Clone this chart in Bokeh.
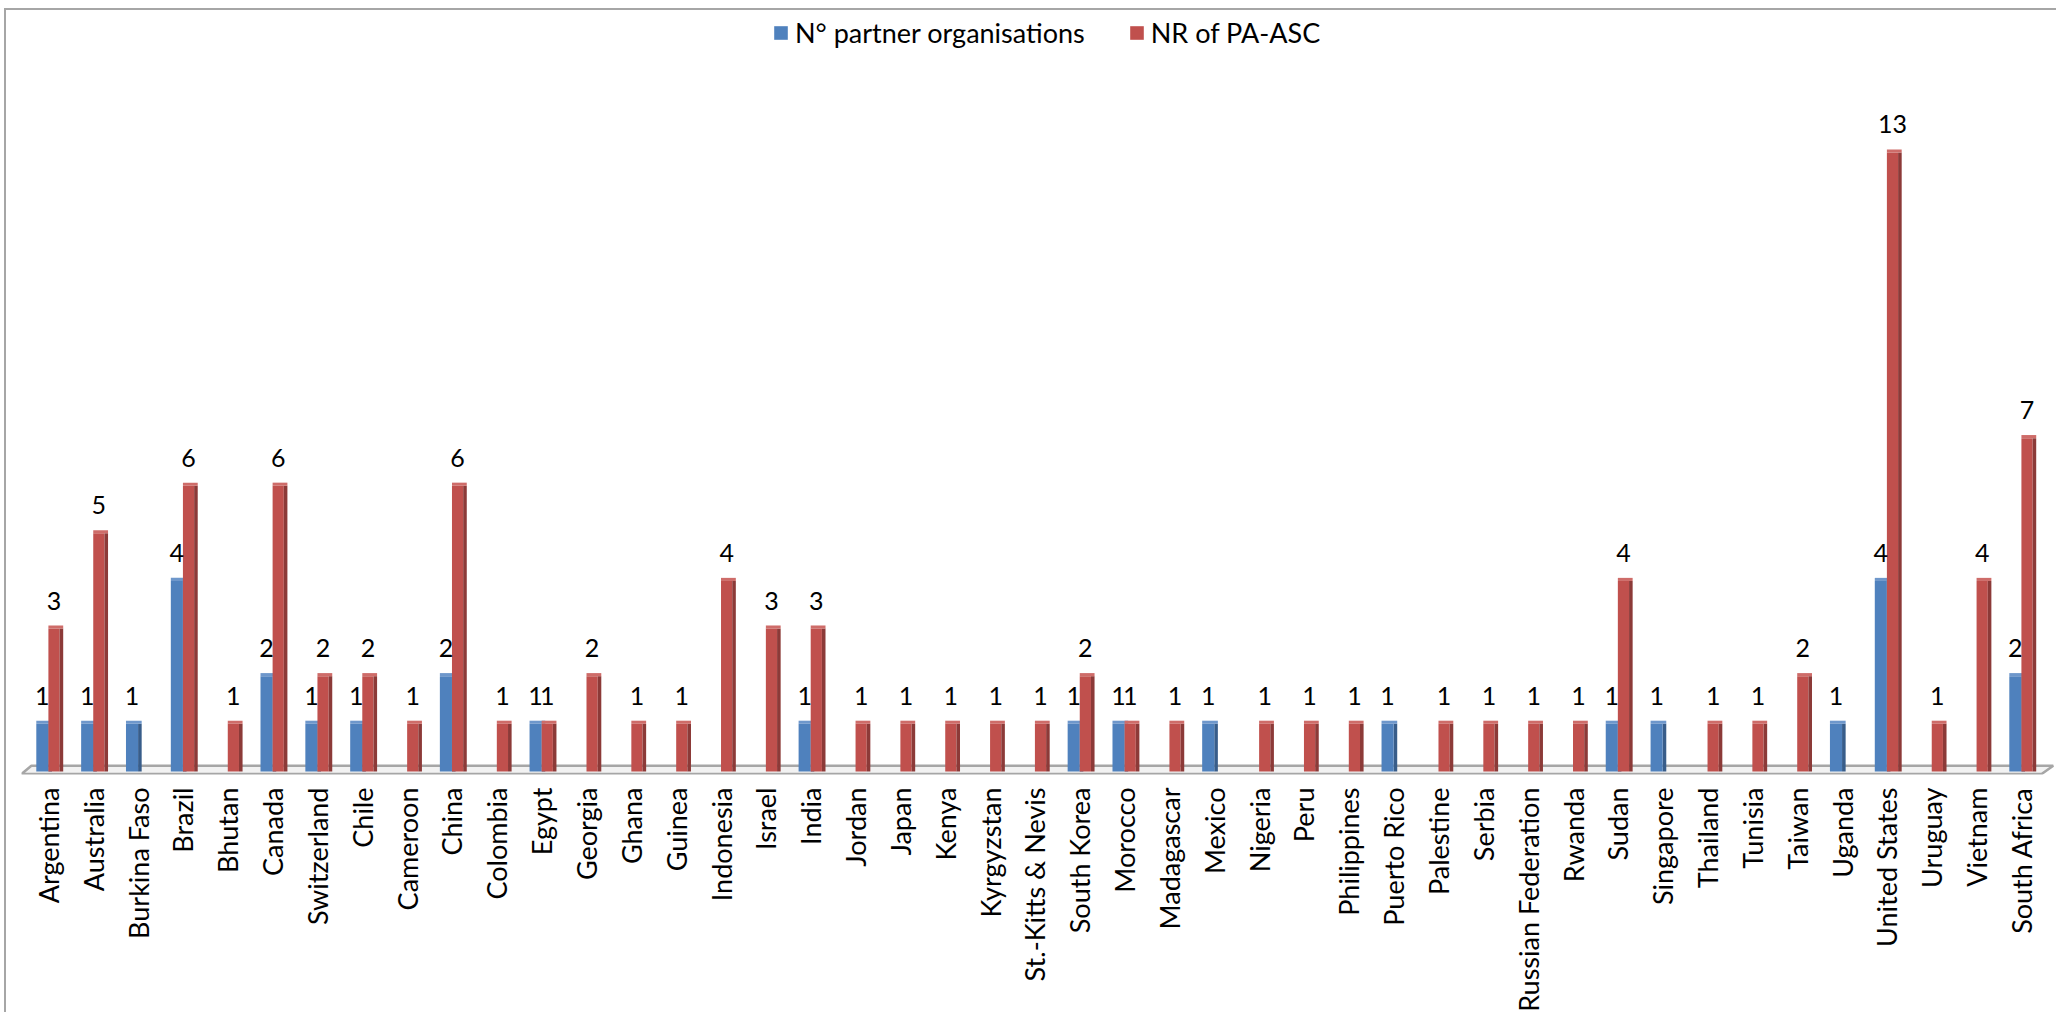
import math
from bokeh.plotting import figure
from bokeh.models import (ColumnDataSource, Range1d, Legend, LegendItem, FixedTicker,
                          CustomJSTransform)
from bokeh.transform import dodge, transform
from bokeh.embed import file_html
from bokeh.resources import INLINE
from bokeh.core.properties import value

countries = ["Argentina", "Australia", "Burkina Faso", "Brazil", "Bhutan", "Canada",
             "Switzerland", "Chile", "Cameroon", "China", "Colombia", "Egypt", "Georgia",
             "Ghana", "Guinea", "Indonesia", "Israel", "India", "Jordan", "Japan", "Kenya",
             "Kyrgyzstan", "St.-Kitts & Nevis", "South Korea", "Morocco", "Madagascar",
             "Mexico", "Nigeria", "Peru", "Philippines", "Puerto Rico", "Palestine",
             "Serbia", "Russian Federation", "Rwanda", "Sudan", "Singapore", "Thailand",
             "Tunisia", "Taiwan", "Uganda", "United States", "Uruguay", "Vietnam",
             "South Africa"]
partner_orgs = [1, 1, 1, 4, 0, 2, 1, 1, 0, 2, 0, 1, 0, 0, 0, 0, 0, 1, 0, 0, 0, 0, 0, 1, 1,
                0, 1, 0, 0, 0, 1, 0, 0, 0, 0, 1, 1, 0, 0, 0, 1, 4, 0, 0, 2]
nr_pa_asc = [3, 5, 0, 6, 1, 6, 2, 2, 1, 6, 1, 1, 2, 1, 1, 4, 3, 3, 1, 1, 1, 1, 1, 2, 1,
             1, 0, 1, 1, 1, 0, 1, 1, 1, 1, 4, 0, 1, 1, 2, 0, 13, 1, 4, 7]
series_names = ["N° partner organisations", "NR of PA-ASC"]

FONT = "Lato"
BLUE, BLUE_SIDE, BLUE_TOP = "#4F81BD", "#385D8A", "#6E97CB"
RED, RED_SIDE, RED_TOP = "#C0504D", "#8C3A38", "#CE6C69"

n = len(countries)
idx = list(range(n))


def series_source(vals):
    keep = [i for i in idx if vals[i] > 0]
    return ColumnDataSource(dict(x=keep, v=[vals[i] for i in keep],
                                 lbl=[str(vals[i]) for i in keep]))


blue = series_source(partner_orgs)
red = series_source(nr_pa_asc)

p = figure(x_range=Range1d(-0.60, n - 0.173), y_range=Range1d(-0.065, 15.94),
           width=2052, height=1004, output_backend="svg", toolbar_location=None,
           min_border_left=15, min_border_right=0, min_border_top=2, min_border_bottom=229)
p.styles = {"border-left": "2px solid #A6A6A6", "border-top": "2px solid #A6A6A6",
            "margin-left": "4px", "margin-top": "8px"}

p.outline_line_color = None
p.background_fill_color = "white"
p.border_fill_color = "white"
p.xgrid.visible = False
p.ygrid.visible = False
p.yaxis.visible = False

# 3-D floor
p.patch([-0.60, -0.38, n - 0.29, n - 0.55], [-0.055, 0.12, 0.12, -0.055],
        fill_color="#F2F2F2", line_color="#A6A6A6", line_width=2.5)

TOP = 0.065
cap = CustomJSTransform(v_func="return xs.map(x => x + %f)" % TOP)

# blue series
p.vbar(x=dodge("x", 0.04), top="v", bottom=0, width=0.08,
       source=blue, fill_color=BLUE_SIDE, line_color=None)
bf = p.vbar(x=dodge("x", -0.135), top="v", bottom=0, width=0.27,
            source=blue, fill_color=BLUE, line_color=None)
p.vbar(x=dodge("x", -0.095), bottom="v", top=transform("v", cap),
       width=0.35, source=blue, fill_color=BLUE_TOP, line_color=None)
# red series
rf = p.vbar(x=dodge("x", 0.125), top="v", bottom=0, width=0.25,
            source=red, fill_color=RED, line_color=None)
p.vbar(x=dodge("x", 0.29), top="v", bottom=0, width=0.08,
       source=red, fill_color=RED_SIDE, line_color=None)
p.vbar(x=dodge("x", 0.165), bottom="v", top=transform("v", cap),
       width=0.33, source=red, fill_color=RED_TOP, line_color=None)

# data labels
for src, off in ((blue, -0.135), (red, 0.125)):
    p.text(x=dodge("x", off), y="v", text="lbl", source=src,
           text_font=value(FONT), text_font_size="25px", text_color="black",
           text_align="center", text_baseline="middle", y_offset=-28)

ax = p.xaxis[0]
ax.ticker = FixedTicker(ticks=idx)
ax.major_label_overrides = {i: c for i, c in zip(idx, countries)}
ax.axis_line_color = None
ax.major_tick_line_color = None
ax.minor_tick_line_color = None
ax.major_tick_out = 0
ax.major_tick_in = 0
ax.major_label_standoff = 13
ax.major_label_orientation = math.pi / 2
ax.major_label_text_font = FONT
ax.major_label_text_font_size = "27px"
ax.major_label_text_color = "black"

legend = Legend(items=[LegendItem(label=series_names[0], renderers=[bf]),
                       LegendItem(label=series_names[1], renderers=[rf])],
                orientation="horizontal", location=(751, 725),
                glyph_width=17, glyph_height=17, label_standoff=6, spacing=43,
                padding=0, margin=0, border_line_color=None,
                background_fill_alpha=0, label_text_font=FONT,
                label_text_font_size="27px", label_text_color="black", label_height=17)
p.add_layout(legend, "center")

open("out.html", "w").write(file_html(p, INLINE))
